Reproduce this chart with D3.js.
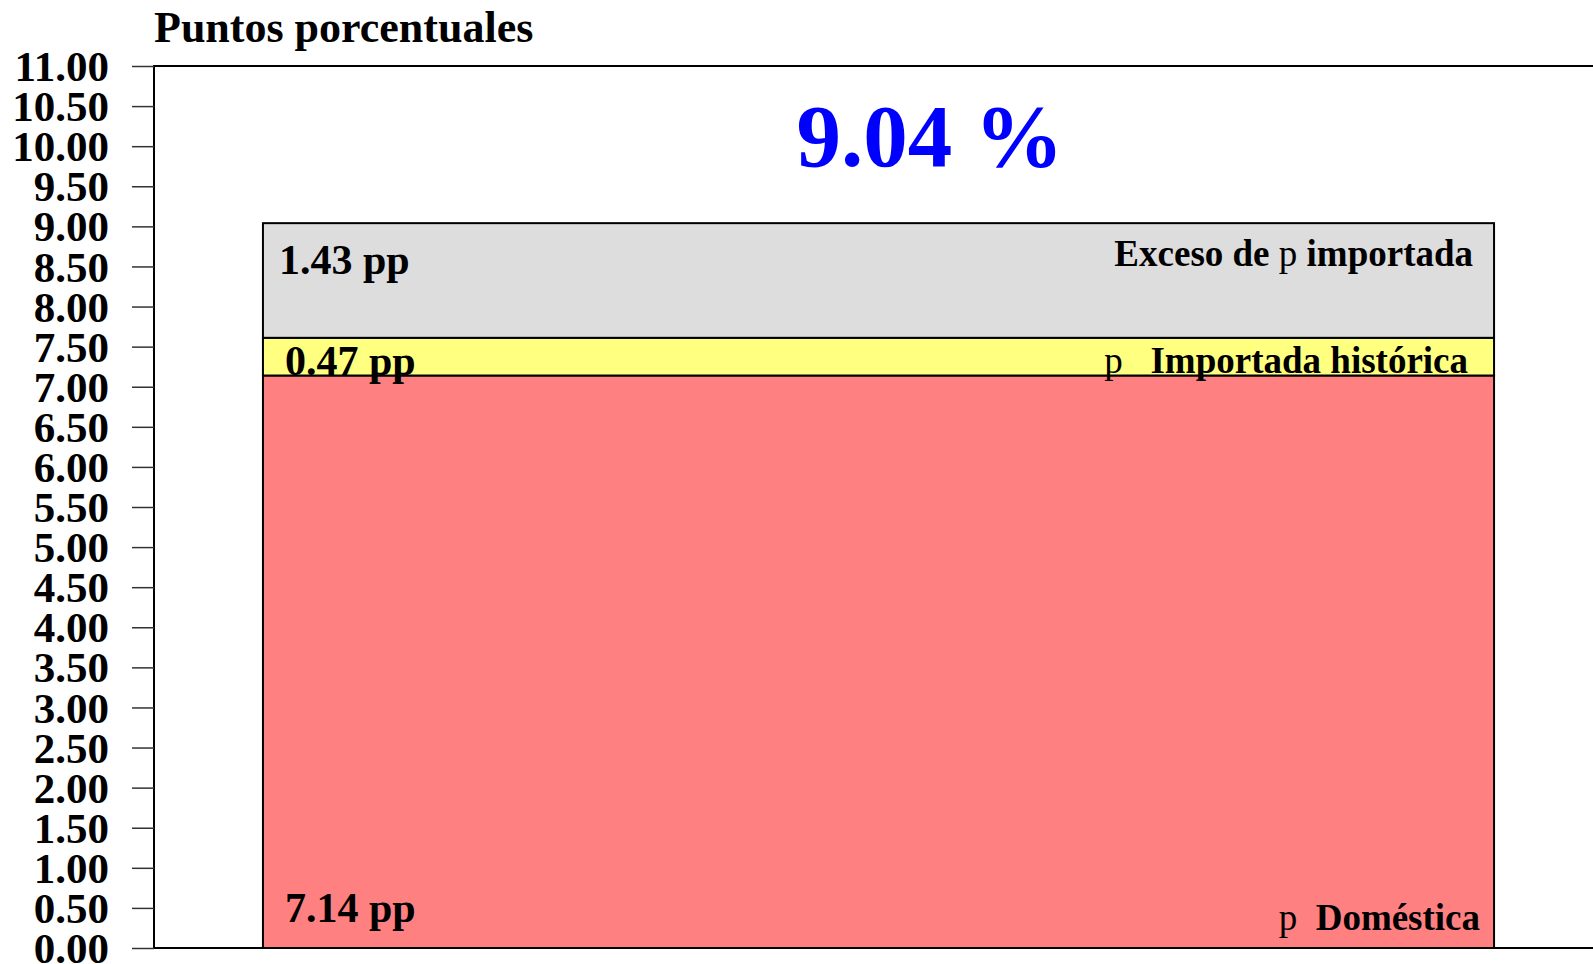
<!DOCTYPE html>
<html>
<head>
<meta charset="utf-8">
<script src="https://cdn.jsdelivr.net/npm/d3@7"></script>
<style>
  body { margin: 0; background: #fff; }
  svg { display: block; font-family: "Liberation Serif", "DejaVu Serif", serif; }
</style>
</head>
<body>
<svg width="1593" height="964"></svg>
<script>
// data
const components = ['Doméstica', 'Importada histórica', 'Exceso de p importada'];
const values = [7.14, 0.47, 1.43];
const colors = ['#ff8080', '#ffff80', '#dddddd'];
const valueLabels = ['7.14 pp', '0.47 pp', '1.43 pp'];
const totalLabel = '9.04 %';
const yTicks = d3.range(0, 11.01, 0.5);

const svg = d3.select('svg');
const margin = { top: 66, left: 154, bottom: 16 };
const height = +svg.attr('height');
const plotBottom = height - margin.bottom;

const y = d3.scaleLinear().domain([0, 11]).range([plotBottom, margin.top]);
const x = d3.scaleBand().domain(['total']).range([margin.left, 1603]).paddingOuter(0.0885);

// stack the three components, bottom to top
let acc = 0;
const stacked = values.map((v, i) => {
  const d = { name: components[i], y0: acc, y1: acc + v, color: colors[i], label: valueLabels[i] };
  acc += v;
  return d;
});

// frame
svg.append('rect')
    .attr('x', margin.left).attr('y', margin.top)
    .attr('width', 1700).attr('height', plotBottom - margin.top)
    .attr('fill', 'none').attr('stroke', '#000').attr('stroke-width', 2);

// y axis
const yAxis = svg.append('g')
    .attr('transform', `translate(${margin.left},0)`)
    .call(d3.axisLeft(y).tickValues(yTicks).tickFormat(d3.format('.2f')).tickSize(22).tickPadding(23));
yAxis.select('.domain').remove();
yAxis.selectAll('line').attr('stroke', '#333').attr('stroke-width', 1.5);
yAxis.selectAll('text')
    .attr('font-family', '"Liberation Serif", serif')
    .attr('font-weight', 'bold')
    .attr('font-size', 43)
    .attr('fill', '#000')
    .attr('dy', '0.34em');

// bars
svg.append('g').selectAll('rect')
  .data(stacked)
  .enter().append('rect')
    .attr('x', x('total'))
    .attr('width', x.bandwidth())
    .attr('y', d => y(d.y1))
    .attr('height', d => y(d.y0) - y(d.y1))
    .attr('fill', d => d.color)
    .attr('stroke', '#000')
    .attr('stroke-width', 2);

// axis title
svg.append('text')
    .attr('x', margin.left).attr('y', 42)
    .attr('font-size', 44).attr('font-weight', 'bold')
    .text('Puntos porcentuales');

// total
svg.append('text')
    .attr('x', 930).attr('y', 166)
    .attr('text-anchor', 'middle')
    .attr('font-size', 89).attr('font-weight', 'bold')
    .attr('fill', '#0000ff')
    .text(totalLabel);

// value labels (left), order: red, yellow, gray
const leftX = [22, 22, 16];
const leftY = [d => y(d.y0) - 26, d => y(d.y1) + 37, d => y(d.y1) + 51];
svg.append('g').selectAll('text')
  .data(stacked)
  .enter().append('text')
    .attr('x', (d, i) => x('total') + leftX[i])
    .attr('y', (d, i) => leftY[i](d))
    .attr('font-size', 42).attr('font-weight', 'bold')
    .text(d => d.label);

// name labels (right)
const right = x('total') + x.bandwidth();
const nameParts = [['p', '  Doméstica'], ['p', '   Importada histórica'], ['Exceso de ', 'p', ' importada']];
const nameEnd = [14, 26, 21];
const nameBase = [d => y(d.y0) - 18, d => y(d.y1) + 35, d => y(d.y1) + 43];
svg.append('g').selectAll('text')
  .data(stacked)
  .enter().append('text')
    .attr('x', (d, i) => right - nameEnd[i])
    .attr('y', (d, i) => nameBase[i](d))
    .attr('text-anchor', 'end')
    .attr('font-size', 37).attr('font-weight', 'bold')
    .attr('xml:space', 'preserve')
    .each(function (d, i) {
      const t = d3.select(this);
      nameParts[i].forEach(p => {
        t.append('tspan')
          .attr('font-weight', p === 'p' ? 'normal' : 'bold')
          .text(p);
      });
    });
</script>
</body>
</html>
